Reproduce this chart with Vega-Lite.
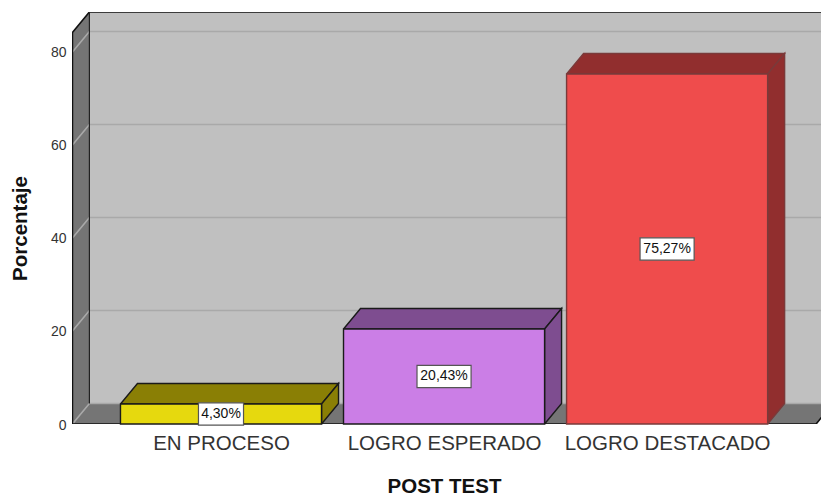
{
"$schema":"https://vega.github.io/schema/vega-lite/v6.json",
"width":749,"height":412,"autosize":"none",
"padding":{"left":72,"top":12,"right":0,"bottom":73},
"background":"white",
"config":{"view":{"stroke":null},"font":"Liberation Sans"},
"datasets":{
"bars":[
{"categoria":"EN PROCESO","porcentaje":4.30,"etiqueta":"4,30%"},
{"categoria":"LOGRO ESPERADO","porcentaje":20.43,"etiqueta":"20,43%"},
{"categoria":"LOGRO DESTACADO","porcentaje":75.27,"etiqueta":"75,27%"}],
"marco":[{"pieza":"pared"}],
"rejilla":[{"g":0},{"g":20},{"g":40},{"g":60},{"g":80}]
},
"data":{"name":"bars"},
"resolve":{"scale":{"fill":"independent","stroke":"independent"}},
"encoding":{
"x":{"field":"xv","type":"quantitative","scale":{"domain":[-0.668,2.69],"nice":false,"zero":false},
"axis":{"values":[0,1,2],"labelExpr":"['EN PROCESO','LOGRO ESPERADO','LOGRO DESTACADO'][datum.value]","grid":false,"domain":false,"ticks":false,"labelFontSize":20.5,"labelColor":"#333333","labelPadding":9,"labelLimit":400,"labelFont":"Liberation Sans","title":"POST TEST","titleFontSize":20.5,"titleFontWeight":"bold","titleColor":"#111111","titleFont":"Liberation Sans","titleX":372,"titleY":62,"titleBaseline":"middle","labelOverlap":false,"labelFlush":false}},
"y":{"field":"yv","type":"quantitative","scale":{"domain":[0,88.6],"nice":false,"zero":false},
"axis":{"values":[0,20,40,60,80],"grid":false,"domain":false,"ticks":false,"labelFontSize":14,"labelColor":"#333333","labelPadding":6,"labelOffset":1,"labelFont":"Liberation Sans","title":"Porcentaje","titleFontSize":20.5,"titleFontWeight":"bold","titleColor":"#111111","titleFont":"Liberation Sans","titleX":-52,"titleY":216,"titleBaseline":"middle"}}
},
"layer":[
{"data":{"name":"marco"},
"transform":[{"calculate":"-0.59","as":"xv"},{"calculate":"2.69","as":"x2v"},{"calculate":"4.41","as":"yv"},{"calculate":"88.6","as":"y2v"}],
"mark":{"type":"rect","fill":"#c0c0c0","clip":true},
"encoding":{"x2":{"field":"x2v"},"y2":{"field":"y2v"}}},
{"data":{"name":"marco"},
"transform":[{"calculate":"[[0,0],[0,84.19],[1,84.19],[1,0]]","as":"ts"},{"flatten":["ts"],"as":["p"]},{"calculate":"-0.666+datum.p[0]*0.0762","as":"xv"},{"calculate":"datum.p[1]+datum.p[0]*4.41","as":"yv"},{"window":[{"op":"row_number","as":"k"}]}],
"mark":{"type":"line","fill":"#757575","stroke":null,"clip":true},
"encoding":{"order":{"field":"k"}}},
{"data":{"name":"marco"},
"transform":[{"calculate":"[[0,-0.666],[0,2.668],[1,2.668],[1,-0.666]]","as":"ts"},{"flatten":["ts"],"as":["p"]},{"calculate":"datum.p[0]*4.41","as":"yv"},{"calculate":"datum.p[1]+datum.p[0]*0.0762","as":"xv"},{"window":[{"op":"row_number","as":"k"}]}],
"mark":{"type":"line","fill":"#757575","stroke":null,"clip":true},
"encoding":{"order":{"field":"k"}}},
{"data":{"name":"rejilla"},
"transform":[{"calculate":"[[-0.666,0],[-0.59,4.41],[2.69,4.41]]","as":"pts"},{"flatten":["pts"],"as":["p"]},{"calculate":"datum.p[0]","as":"xv"},{"calculate":"datum.g+datum.p[1]","as":"yv"}],
"mark":{"type":"line","stroke":"#a9a9a9","strokeWidth":1.6,"clip":true,"interpolate":"linear"},
"encoding":{"detail":{"field":"g"},"order":{"field":"xv"}}},
{"data":{"values":[{"trazo":"a"}]},
"transform":[{"calculate":"[[2.744,4.41,0],[2.668,0,1],[-0.666,0,2],[-0.666,84.19,3],[-0.59,88.6,4],[2.69,88.6,5]]","as":"pts"},{"flatten":["pts"],"as":["p"]},{"calculate":"datum.p[0]","as":"xv"},{"calculate":"datum.p[1]","as":"yv"},{"calculate":"datum.p[2]","as":"k"}],
"mark":{"type":"line","stroke":"#111111","strokeWidth":1.6,"clip":true},
"encoding":{"order":{"field":"k"}}},
{"data":{"values":[{"trazo":"b"}]},
"transform":[{"calculate":"[[-0.59,88.6,0],[-0.59,4.41,1]]","as":"pts"},{"flatten":["pts"],"as":["p"]},{"calculate":"datum.p[0]","as":"xv"},{"calculate":"datum.p[1]","as":"yv"},{"calculate":"datum.p[2]","as":"k"}],
"mark":{"type":"line","stroke":"#222222","strokeWidth":1.2,"clip":true},
"encoding":{"order":{"field":"k"}}},
{"transform":[{"calculate":"indexof(['EN PROCESO','LOGRO ESPERADO','LOGRO DESTACADO'],datum.categoria)","as":"i"},{"calculate":"[[0,-1],[0,1],[1,1],[1,-1],[0,-1]]","as":"ts"},{"flatten":["ts"],"as":["p"]},{"calculate":"datum.porcentaje+datum.p[0]*4.41","as":"yv"},{"calculate":"datum.i+datum.p[1]*0.4507+datum.p[0]*0.0762","as":"xv"},{"window":[{"op":"row_number","as":"k"}]}],
"mark":{"type":"line","strokeWidth":1.4},
"encoding":{"order":{"field":"k"},"detail":{"field":"categoria"},
"fill":{"field":"categoria","scale":{"domain":["EN PROCESO","LOGRO ESPERADO","LOGRO DESTACADO"],"range":["#8a7f05","#7e4d90","#912e2e"]},"legend":null},
"stroke":{"field":"categoria","scale":{"domain":["EN PROCESO","LOGRO ESPERADO","LOGRO DESTACADO"],"range":["#1a1a1a","#1a1a1a","#7a3a3a"]},"legend":null}}},
{"transform":[{"calculate":"indexof(['EN PROCESO','LOGRO ESPERADO','LOGRO DESTACADO'],datum.categoria)","as":"i"},{"calculate":"[[0,0],[0,1],[1,1],[1,0],[0,0]]","as":"ts"},{"flatten":["ts"],"as":["p"]},{"calculate":"datum.i+0.4507+datum.p[0]*0.0762","as":"xv"},{"calculate":"datum.p[1]*datum.porcentaje+datum.p[0]*4.41","as":"yv"},{"window":[{"op":"row_number","as":"k"}]}],
"mark":{"type":"line","strokeWidth":1.4},
"encoding":{"order":{"field":"k"},"detail":{"field":"categoria"},
"fill":{"field":"categoria","scale":{"domain":["EN PROCESO","LOGRO ESPERADO","LOGRO DESTACADO"],"range":["#8a7f05","#7e4d90","#912e2e"]},"legend":null},
"stroke":{"field":"categoria","scale":{"domain":["EN PROCESO","LOGRO ESPERADO","LOGRO DESTACADO"],"range":["#1a1a1a","#1a1a1a","#7a3a3a"]},"legend":null}}},
{"transform":[{"calculate":"indexof(['EN PROCESO','LOGRO ESPERADO','LOGRO DESTACADO'],datum.categoria)","as":"i"},{"calculate":"datum.i-0.4507","as":"xv"},{"calculate":"datum.i+0.4507","as":"x2v"},{"calculate":"datum.porcentaje","as":"yv"},{"calculate":"0","as":"y2v"}],
"mark":{"type":"rect","strokeWidth":1.4},
"encoding":{"x2":{"field":"x2v"},"y2":{"field":"y2v"},
"fill":{"field":"categoria","scale":{"domain":["EN PROCESO","LOGRO ESPERADO","LOGRO DESTACADO"],"range":["#e6d90e","#cb7ee6","#ef4c4c"]},"legend":null},
"stroke":{"field":"categoria","scale":{"domain":["EN PROCESO","LOGRO ESPERADO","LOGRO DESTACADO"],"range":["#1a1a1a","#1a1a1a","#7a3a3a"]},"legend":null}}},
{"transform":[{"calculate":"indexof(['EN PROCESO','LOGRO ESPERADO','LOGRO DESTACADO'],datum.categoria)","as":"i"},{"calculate":"datum.i-length(datum.etiqueta)*0.0202","as":"xv"},{"calculate":"datum.i+length(datum.etiqueta)*0.0202","as":"x2v"},{"calculate":"datum.porcentaje/2+2.4","as":"yv"},{"calculate":"datum.porcentaje/2-2.4","as":"y2v"}],
"mark":{"type":"rect","fill":"white","stroke":"#555555","strokeWidth":1.2},
"encoding":{"x2":{"field":"x2v"},"y2":{"field":"y2v"}}},
{"transform":[{"calculate":"indexof(['EN PROCESO','LOGRO ESPERADO','LOGRO DESTACADO'],datum.categoria)","as":"xv"},{"calculate":"datum.porcentaje/2","as":"yv"}],
"mark":{"type":"text","font":"Liberation Sans","fontSize":14,"fill":"#111111","align":"center","baseline":"middle"},
"encoding":{"text":{"field":"etiqueta"}}}
]
}
